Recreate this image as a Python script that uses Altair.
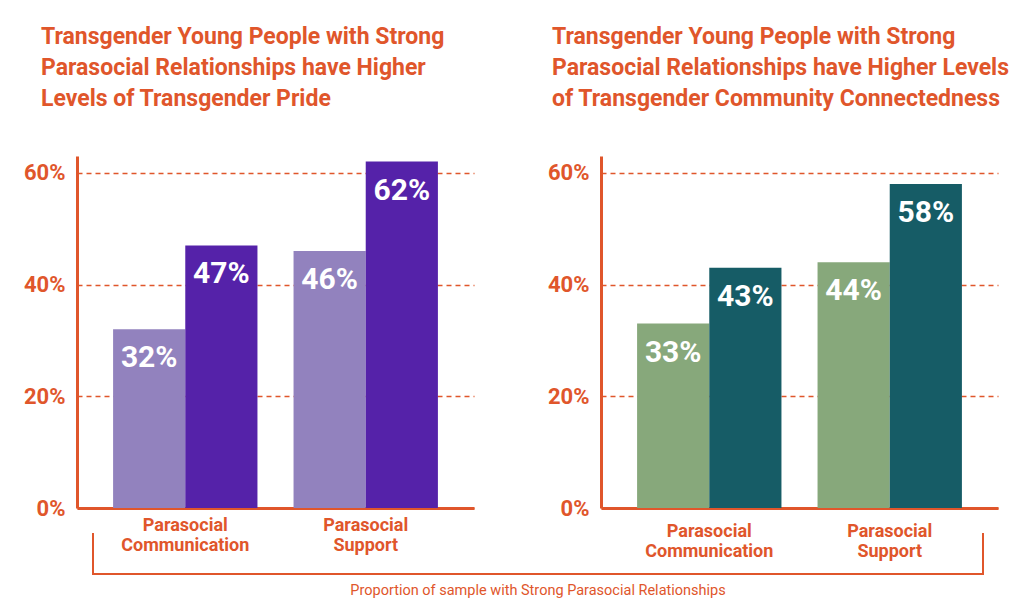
import altair as alt
import pandas as pd

groups = ["Parasocial Communication", "Parasocial Support"]
series = ["Not strong", "Strong"]
pride_values = [32, 47, 46, 62]
connect_values = [33, 43, 44, 58]
y_ticks = [0, 20, 40, 60]

title_left = ["Transgender Young People with Strong",
              "Parasocial Relationships have Higher",
              "Levels of Transgender Pride"]
title_right = ["Transgender Young People with Strong",
               "Parasocial Relationships have Higher Levels",
               "of Transgender Community Connectedness"]
caption = "Proportion of sample with Strong Parasocial Relationships"

ORANGE = "#E0562B"
PURPLES = ["#9282BE", "#5522A9"]
GREENS = ["#87A87B", "#165C66"]
FONT = "Roboto"

W, H = 397, 352


def panel(values, colors, title_lines, title_dx, xlab_pad, deco=False):
    df = pd.DataFrame({
        "group": [g for g in groups for _ in series],
        "series": series * 2,
        "value": values,
    })
    df["label"] = [f"{v}%" for v in values]
    base = alt.Chart(df)
    x = alt.X("group:N", sort=groups,
              scale=alt.Scale(paddingInner=0.2, paddingOuter=0.2),
              axis=alt.Axis(title=None, labelAngle=0, ticks=False,
                            labelExpr="split(datum.label, ' ')",
                            labelFont=FONT, labelFontSize=18, labelFontWeight="bold",
                            labelColor=ORANGE, labelLineHeight=20, labelPadding=xlab_pad,
                            domainColor=ORANGE, domainWidth=3, grid=False))
    xo = alt.XOffset("series:N", sort=series,
                     scale=alt.Scale(paddingInner=0, paddingOuter=0))
    y = alt.Y("value:Q", scale=alt.Scale(domain=[0, 63], nice=False),
              axis=alt.Axis(title=None, values=y_ticks, ticks=False,
                            labelExpr="datum.value + '%'",
                            labelFont=FONT, labelFontSize=22, labelFontWeight="bold",
                            labelColor=ORANGE, labelPadding=12,
                            domainColor=ORANGE, domainWidth=3,
                            grid=True, gridColor=ORANGE, gridDash=[5, 4], gridWidth=1.5))
    bars = base.mark_bar().encode(
        x=x, xOffset=xo, y=y,
        color=alt.Color("series:N", scale=alt.Scale(domain=series, range=colors), legend=None),
    )
    labels = base.mark_text(color="white", font=FONT, fontSize=30, fontWeight="bold",
                            baseline="middle", dy=29).encode(
        x=x, xOffset=xo, y=y, text="label:N")
    layers = [bars, labels]
    if deco:
        one = alt.Chart(pd.DataFrame({"k": [0]}))
        lx, rx, ty, by = 16, 906, 377, 418
        layers += [
            one.mark_rule(color=ORANGE, strokeWidth=2).encode(
                x=alt.value(lx), y=alt.value(ty), y2=alt.value(by)),
            one.mark_rule(color=ORANGE, strokeWidth=2).encode(
                x=alt.value(rx), y=alt.value(ty), y2=alt.value(by)),
            one.mark_rule(color=ORANGE, strokeWidth=2).encode(
                x=alt.value(lx - 1), x2=alt.value(rx + 1), y=alt.value(by)),
            one.mark_text(color=ORANGE, font=FONT, fontSize=14.5, baseline="middle",
                          align="center").encode(
                x=alt.value((lx + rx) / 2), y=alt.value(435), text=alt.value(caption)),
        ]
    return alt.layer(*layers).properties(
        width=W, height=H,
        title=alt.TitleParams(text=title_lines, anchor="start", frame="group",
                              font=FONT, fontSize=23, fontWeight="bold", color=ORANGE,
                              lineHeight=31, dx=title_dx, offset=45),
    )


left = panel(pride_values, PURPLES, title_left, -36, 8, deco=True)
right = panel(connect_values, GREENS, title_right, -49, 14)

chart = alt.hconcat(left, right, spacing=127, bounds="flush").resolve_scale(
    color="independent"
).properties(
    padding={"left": 23, "top": 26, "right": 5, "bottom": 5}
).configure_view(stroke=None)

chart.save("out.html", embed_options={"renderer": "svg", "actions": False})
